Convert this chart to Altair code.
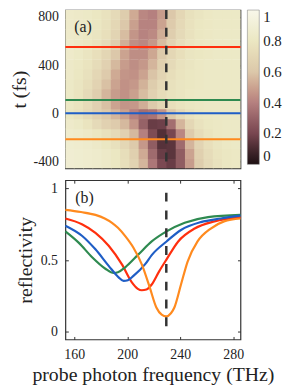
import altair as alt
import pandas as pd

# ---------------- data ----------------
# heat map (a): column centres (THz), row centres (fs), reflectivity (bottom row first)
freq_cols = [156.5, 163.5, 170.5, 177.5, 184.5, 191.5, 198.5, 205.5, 212.5, 219.5,
             226.5, 233.5, 240.5, 247.5, 254.5, 261.5, 268.5, 275.5, 282.5]
t_rows = [-418.75, -336.25, -253.75, -171.25, -88.75, -6.25, 76.25, 158.75,
          241.25, 323.75, 406.25, 488.75, 571.25, 653.75, 736.25, 818.75]
heat_values = [
    [0.88, 0.87, 0.86, 0.85, 0.83, 0.80, 0.75, 0.67, 0.55, 0.37, 0.21, 0.17, 0.28, 0.48, 0.63, 0.72, 0.77, 0.80, 0.81],
    [0.88, 0.87, 0.86, 0.85, 0.83, 0.80, 0.74, 0.65, 0.52, 0.33, 0.17, 0.14, 0.28, 0.50, 0.65, 0.73, 0.78, 0.80, 0.81],
    [0.87, 0.86, 0.85, 0.83, 0.80, 0.76, 0.70, 0.61, 0.47, 0.28, 0.13, 0.14, 0.33, 0.55, 0.68, 0.75, 0.79, 0.81, 0.82],
    [0.86, 0.85, 0.83, 0.80, 0.76, 0.72, 0.66, 0.56, 0.40, 0.22, 0.12, 0.20, 0.42, 0.62, 0.73, 0.78, 0.81, 0.82, 0.82],
    [0.84, 0.82, 0.78, 0.72, 0.66, 0.62, 0.56, 0.46, 0.30, 0.17, 0.18, 0.34, 0.55, 0.70, 0.77, 0.80, 0.81, 0.82, 0.82],
    [0.80, 0.77, 0.72, 0.66, 0.60, 0.55, 0.49, 0.40, 0.34, 0.36, 0.46, 0.60, 0.71, 0.77, 0.80, 0.81, 0.82, 0.82, 0.82],
    [0.81, 0.78, 0.73, 0.66, 0.58, 0.50, 0.46, 0.47, 0.53, 0.61, 0.69, 0.75, 0.78, 0.80, 0.81, 0.82, 0.82, 0.82, 0.82],
    [0.82, 0.78, 0.72, 0.64, 0.55, 0.48, 0.45, 0.49, 0.57, 0.66, 0.73, 0.77, 0.79, 0.81, 0.82, 0.82, 0.82, 0.82, 0.82],
    [0.82, 0.79, 0.74, 0.67, 0.58, 0.50, 0.45, 0.47, 0.54, 0.63, 0.71, 0.76, 0.79, 0.80, 0.81, 0.82, 0.82, 0.82, 0.82],
    [0.83, 0.80, 0.76, 0.70, 0.62, 0.52, 0.46, 0.45, 0.50, 0.59, 0.68, 0.74, 0.78, 0.80, 0.81, 0.82, 0.82, 0.82, 0.82],
    [0.83, 0.81, 0.78, 0.73, 0.66, 0.56, 0.48, 0.44, 0.47, 0.55, 0.65, 0.72, 0.77, 0.79, 0.81, 0.82, 0.82, 0.82, 0.82],
    [0.84, 0.82, 0.79, 0.75, 0.69, 0.60, 0.50, 0.44, 0.44, 0.51, 0.61, 0.70, 0.75, 0.79, 0.80, 0.81, 0.82, 0.82, 0.82],
    [0.84, 0.82, 0.80, 0.77, 0.72, 0.64, 0.53, 0.44, 0.42, 0.47, 0.57, 0.67, 0.74, 0.78, 0.80, 0.81, 0.82, 0.82, 0.82],
    [0.84, 0.83, 0.81, 0.79, 0.75, 0.68, 0.57, 0.46, 0.41, 0.43, 0.53, 0.64, 0.72, 0.77, 0.80, 0.81, 0.82, 0.82, 0.82],
    [0.84, 0.83, 0.82, 0.80, 0.76, 0.70, 0.60, 0.49, 0.41, 0.41, 0.50, 0.62, 0.71, 0.77, 0.80, 0.81, 0.82, 0.82, 0.82],
    [0.84, 0.83, 0.82, 0.80, 0.77, 0.72, 0.63, 0.52, 0.42, 0.40, 0.48, 0.60, 0.70, 0.76, 0.79, 0.81, 0.82, 0.82, 0.82],
]
col_half = 3.5
row_half = 41.25
seam = 0.4  # small overlap so neighbouring cells leave no hairline gaps

# probe delays marked in (a) and plotted in (b)
series_names = ["t1", "t2", "t3", "t4"]
series_times = [550, 110, 0, -215]
series_colors = ["#ff2f0e", "#2e8a50", "#1f5ec6", "#ff8a1e"]

# curves in (b)
red_f = [153.3, 165.8, 176, 186, 196, 203.5, 208, 211, 214.5, 218.5, 224, 229.7, 238.5, 250.9, 265.9, 285.5]
red_r = [0.79, 0.75, 0.69, 0.60, 0.47, 0.345, 0.30, 0.29, 0.295, 0.33, 0.42, 0.505, 0.63, 0.72, 0.77, 0.80]
green_f = [153.3, 163.5, 173.5, 183.5, 189.8, 193, 198.5, 208.5, 218.5, 229.7, 243.4, 261, 285.5]
green_r = [0.70, 0.62, 0.52, 0.44, 0.41, 0.415, 0.45, 0.54, 0.63, 0.70, 0.76, 0.80, 0.815]
blue_f = [153.3, 165.8, 176, 186, 193.5, 197.2, 200.5, 204.7, 213.4, 218.5, 229.7, 240.6, 255.6, 270.6, 285.5]
blue_r = [0.74, 0.67, 0.575, 0.46, 0.38, 0.355, 0.36, 0.39, 0.47, 0.535, 0.63, 0.71, 0.765, 0.79, 0.81]
orange_f = [153.3, 165, 176, 183, 188.5, 193, 198.5, 204.7, 211, 217, 222, 226, 229.5, 233, 235.6, 240.6, 245.6, 253.1, 263.1, 273.1, 285.5]
orange_r = [0.85, 0.835, 0.815, 0.79, 0.76, 0.725, 0.667, 0.586, 0.47, 0.31, 0.17, 0.12, 0.108, 0.13, 0.17, 0.33, 0.49, 0.63, 0.72, 0.77, 0.79]

probe_line_f = [229.5]
freq_ticks = [160, 200, 240, 280]
t_ticks = [-400, -200, 0, 200, 400, 600, 800]
refl_ticks = [0, 0.5, 1]
cbar_ticks = [0, 0.2, 0.4, 0.6, 0.8, 1]
cmap_stops = [0, 0.2, 0.4, 0.6, 0.8, 1]
cmap_colors = ["#1e1013", "#784650", "#b5807f", "#dcc8aa", "#ebe7c2", "#f8f7ea"]

f_domain = [153.3, 285.5]
t_domain = [-456, 856]
r_domain = [-0.053, 1.057]

# ---------------- tables ----------------
heat_rows = []
for ti, t in enumerate(t_rows):
    for fi, f in enumerate(freq_cols):
        heat_rows.append({"f0": f - col_half - seam, "f1": f + col_half + seam,
                          "t0": t - row_half - 4 * seam, "t1": t + row_half + 4 * seam,
                          "R": heat_values[ti][fi]})
heat_df = pd.DataFrame(heat_rows)
hline_df = pd.DataFrame({"t": series_times, "s": series_names})
vline_df = pd.DataFrame({"f": probe_line_f})

curve_rows = []
for name, fs, rs in [("t1", red_f, red_r), ("t2", green_f, green_r),
                     ("t3", blue_f, blue_r), ("t4", orange_f, orange_r)]:
    for f, r in zip(fs, rs):
        curve_rows.append({"f": f, "r": r, "s": name})
curve_df = pd.DataFrame(curve_rows)
vline_b_df = pd.DataFrame({"f": probe_line_f, "y0": [0.0], "y1": [0.97]})

FONT = "Liberation Serif, Times New Roman, DejaVu Serif, serif"
INK = "#222222"
W = 177

fx = alt.Scale(domain=f_domain, nice=False, zero=False)
ty = alt.Scale(domain=t_domain, nice=False, zero=False)
ry = alt.Scale(domain=r_domain, nice=False, zero=False)

def ax(orient, values, labels=True, title=None, label_expr=None, fmt=None,
       title_pad=6, label_pad=7):
    kw = dict(orient=orient, values=values, labels=labels, ticks=True, domain=False,
              grid=False, tickSize=3, offset=-3, tickColor="#333333", tickWidth=1,
              minExtent=0,
              labelFont=FONT, labelFontSize=14, labelColor=INK, labelPadding=label_pad,
              titleFont=FONT, titleFontSize=20, titleFontWeight="normal", titleColor=INK,
              titlePadding=title_pad)
    kw["title"] = title
    if label_expr is not None:
        kw["labelExpr"] = label_expr
    if fmt is not None:
        kw["format"] = fmt
    return alt.Axis(**kw)

# ---------------- panel (a) ----------------
heat = alt.Chart(heat_df).mark_rect(clip=True).encode(
    x=alt.X("f0:Q", scale=fx, axis=ax("bottom", freq_ticks, labels=False)),
    x2="f1:Q",
    y=alt.Y("t0:Q", scale=ty, axis=ax(
        "left", t_ticks, title="t (fs)",
        label_expr="datum.value % 400 == 0 ? (datum.value < 0 ? '-' + abs(datum.value) : '' + datum.value) : ''",
        title_pad=4)),
    y2="t1:Q",
    color=alt.Color("R:Q",
                    scale=alt.Scale(domain=cmap_stops, range=cmap_colors, clamp=True),
                    legend=alt.Legend(title=None, orient="right", offset=6, padding=0,
                                      direction="vertical",
                                      gradientLength=156, gradientThickness=12,
                                      gradientStrokeColor="#777777", gradientStrokeWidth=0.5,
                                      values=cbar_ticks, format=".1~f",
                                      labelFont=FONT, labelFontSize=15, labelColor=INK,
                                      labelOffset=4)),
)

hlines = alt.Chart(hline_df).mark_rule(strokeWidth=2).encode(
    y=alt.Y("t:Q", scale=ty, axis=ax("right", t_ticks, labels=False)),
    stroke=alt.Stroke("s:N", scale=alt.Scale(domain=series_names, range=series_colors), legend=None),
)

vline_a = alt.Chart(vline_df).mark_rule(strokeWidth=2.5, strokeDash=[9, 9], color="#333333").encode(
    x=alt.X("f:Q", scale=fx, axis=ax("top", freq_ticks, labels=False)),
)

label_a = alt.Chart(pd.DataFrame({"lab": ["(a)"]})).mark_text(
    align="left", baseline="middle", font=FONT, fontSize=16, color=INK
).encode(text="lab:N", x=alt.value(9), y=alt.value(17))

panel_a = alt.layer(heat, hlines, vline_a, label_a).resolve_axis(
    x="independent", y="independent"
).properties(width=W, height=160)

# ---------------- panel (b) ----------------
curves = alt.Chart(curve_df).mark_line(strokeWidth=2.2, interpolate="monotone").encode(
    x=alt.X("f:Q", scale=fx, axis=ax("bottom", freq_ticks, title="probe photon frequency (THz)",
                                      title_pad=3, label_pad=8)),
    y=alt.Y("r:Q", scale=ry, axis=ax("left", refl_ticks, title="reflectivity", fmt="~g",
                                      title_pad=5, label_pad=8)),
    color=alt.Color("s:N", scale=alt.Scale(domain=series_names, range=series_colors), legend=None),
    order=alt.Order("f:Q"),
)

vline_b = alt.Chart(vline_b_df).mark_rule(strokeWidth=2.5, strokeDash=[9, 9], color="#333333").encode(
    x=alt.X("f:Q", scale=fx, axis=ax("top", freq_ticks, labels=False)),
    y=alt.Y("y1:Q", scale=ry, axis=ax("right", refl_ticks, labels=False)),
    y2="y0:Q",
)

label_b = alt.Chart(pd.DataFrame({"lab": ["(b)"]})).mark_text(
    align="left", baseline="middle", font=FONT, fontSize=16, color=INK
).encode(text="lab:N", x=alt.value(10), y=alt.value(18))

panel_b = alt.layer(curves, vline_b, label_b).resolve_axis(
    x="independent", y="independent"
).properties(width=W, height=161)

chart = alt.vconcat(panel_a, panel_b, spacing=8).resolve_scale(
    color="independent", stroke="independent"
).properties(
    padding={"left": 0, "top": -2, "right": 0, "bottom": 0},
    background="white",
).configure(font=FONT).configure_view(
    stroke="#333333", strokeWidth=1.2
)

chart.save("out.html", embed_options={"renderer": "svg", "actions": False})
